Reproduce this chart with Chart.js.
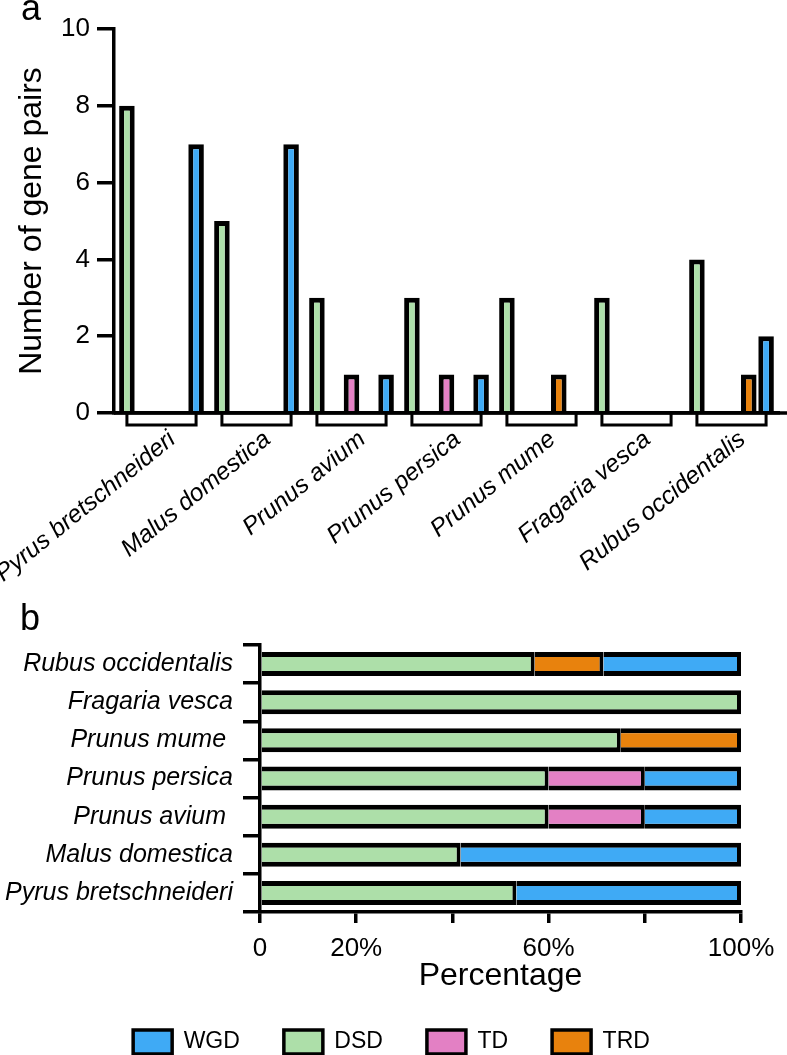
<!DOCTYPE html>
<html lang="en">
<head>
  <meta charset="UTF-8">
  <title>Gene pairs by duplication type</title>
  <script src="https://cdn.jsdelivr.net/npm/chart.js"></script>
  <style>
    body { margin: 0; background: #fff; }
    #wrap { position: relative; width: 787px; height: 1055px; overflow: hidden; }
    .box { position: absolute; left: 0; width: 787px; }
    #topBox { top: 0; height: 600px; }
    #botBox { top: 600px; height: 464px; }
    .tag { position: absolute; font: 36px/36px "Liberation Sans", Arial, sans-serif; color: #000; }
  </style>
</head>
<body>
<div id="wrap">
  <div class="box" id="topBox"><canvas id="countChart"></canvas></div>
  <div class="box" id="botBox"><canvas id="pctChart"></canvas></div>
  <div class="tag" style="left:21px; top:-10px;">a</div>
  <div class="tag" style="left:20px; top:600px;">b</div>
</div>

<script>
  // panel a: number of gene pairs per species
  const species = ['Pyrus bretschneideri', 'Malus domestica', 'Prunus avium', 'Prunus persica',
                   'Prunus mume', 'Fragaria vesca', 'Rubus occidentalis'];
  const dsdCount = [8, 5, 3, 3, 3, 3, 4];
  const tdCount  = [0, 0, 1, 1, 0, 0, 0];
  const trdCount = [0, 0, 0, 0, 1, 0, 1];
  const wgdCount = [7, 7, 1, 1, 0, 0, 2];

  // panel b: percentage per species (top row first)
  const speciesRows = ['Rubus occidentalis', 'Fragaria vesca', 'Prunus mume ', 'Prunus persica',
                       'Prunus avium ', 'Malus domestica', 'Pyrus bretschneideri'];
  const dsdPct = [57.1, 100, 75, 60, 60, 41.7, 53.3];
  const tdPct  = [0, 0, 0, 20, 20, 0, 0];
  const trdPct = [14.3, 0, 25, 0, 0, 0, 0];
  const wgdPct = [28.6, 0, 0, 20, 20, 58.3, 46.7];
  const pctTickLabels = ['0', '20%', '', '60%', '', '100%'];

  const legendOrder = ['WGD', 'DSD', 'TD', 'TRD'];
  const colors = { DSD: '#addfa9', TD: '#e380c4', TRD: '#e8820d', WGD: '#3faaf5' };

  Chart.defaults.font.family = '"Liberation Sans", Arial, sans-serif';
  Chart.defaults.color = '#000';

  // bracket under each group + axis line running to the edge
  const brackets = {
    id: 'brackets',
    afterDraw(chart) {
      const { ctx, chartArea, scales } = chart;
      const first = chart.getDatasetMeta(0).data;
      const last = chart.getDatasetMeta(4).data;
      const y0 = scales.y.getPixelForValue(0);
      ctx.save();
      ctx.strokeStyle = '#000';
      ctx.lineWidth = 3.5;
      ctx.beginPath();
      ctx.moveTo(chartArea.left, y0);
      ctx.lineTo(chart.width, y0);
      ctx.stroke();
      ctx.lineWidth = 3;
      first.forEach((bar, i) => {
        const x1 = bar.x, x2 = last[i].x;
        ctx.beginPath();
        ctx.moveTo(x1, y0);
        ctx.lineTo(x1, y0 + 12);
        ctx.lineTo(x2, y0 + 12);
        ctx.lineTo(x2, y0);
        ctx.stroke();
      });
      ctx.restore();
    }
  };

  // legend sits a little right of the plot centre in the original
  const legendShift = {
    id: 'legendShift',
    afterLayout(chart) {
      chart.legend.left += 21;
      chart.legend.right += 21;
    }
  };

  const barStyle = (c) => ({ backgroundColor: c, borderColor: '#000', borderWidth: 5 });

  new Chart(document.getElementById('countChart'), {
    type: 'bar',
    data: {
      labels: species,
      datasets: [
        { label: 'DSD', data: dsdCount, ...barStyle(colors.DSD) },
        { label: '', data: species.map(() => null) },   // empty column, keeps GraphPad spacing
        { label: 'TD', data: tdCount, ...barStyle(colors.TD) },
        { label: 'TRD', data: trdCount, ...barStyle(colors.TRD) },
        { label: 'WGD', data: wgdCount, ...barStyle(colors.WGD) }
      ]
    },
    options: {
      responsive: true,
      maintainAspectRatio: false,
      animation: false,
      layout: { padding: { top: 29, right: 8, left: 0, bottom: 0 } },
      datasets: { bar: { categoryPercentage: 0.91, barPercentage: 0.9 } },
      plugins: { legend: { display: false }, tooltip: { enabled: false } },
      scales: {
        x: {
          grid: { display: false, drawTicks: false },
          border: { display: true, color: '#000', width: 3.5 },
          ticks: {
            font: { size: 24.5, style: 'italic' },
            minRotation: 39, maxRotation: 39, autoSkip: false,
            padding: 12, labelOffset: 11
          },
          afterFit: s => { s.height = 187; s.paddingLeft = 0; s.paddingRight = 0; }
        },
        y: {
          min: 0, max: 10,
          ticks: { stepSize: 2, font: { size: 26 }, padding: 7 },
          grid: { drawOnChartArea: false, tickLength: 17, lineWidth: 3.5, color: '#000' },
          border: { color: '#000', width: 3.5 },
          title: { display: true, text: 'Number of gene pairs', font: { size: 32 }, padding: { top: 13, bottom: 0 } },
          afterFit: s => { s.width = 114; }
        }
      }
    },
    plugins: [brackets]
  });

  const segStyle = (c) => ({
    backgroundColor: c, borderColor: '#000',
    borderWidth: { top: 5, bottom: 5, left: 0, right: 4 }
  });

  new Chart(document.getElementById('pctChart'), {
    type: 'bar',
    data: {
      labels: speciesRows,
      datasets: [
        { label: 'DSD', data: dsdPct, ...segStyle(colors.DSD) },
        { label: 'TD', data: tdPct, ...segStyle(colors.TD) },
        { label: 'TRD', data: trdPct, ...segStyle(colors.TRD) },
        { label: 'WGD', data: wgdPct, ...segStyle(colors.WGD) }
      ]
    },
    options: {
      indexAxis: 'y',
      responsive: true,
      maintainAspectRatio: false,
      animation: false,
      layout: { padding: { top: 45, right: 46, left: 0, bottom: 0 } },
      datasets: { bar: { categoryPercentage: 1, barPercentage: 0.63 } },
      plugins: {
        tooltip: { enabled: false },
        legend: {
          position: 'bottom',
          labels: {
            boxWidth: 39, boxHeight: 24, padding: 44,
            font: { size: 23 },
            sort: (a, b) => legendOrder.indexOf(a.text) - legendOrder.indexOf(b.text)
          }
        }
      },
      scales: {
        x: {
          stacked: true, min: 0, max: 100,
          ticks: { stepSize: 20, font: { size: 26 }, padding: 10, callback: (v, i) => pctTickLabels[i] },
          grid: { drawOnChartArea: false, tickLength: 11, lineWidth: 3.5, color: '#000' },
          border: { color: '#000', width: 3.5 },
          title: { display: true, text: 'Percentage', font: { size: 32 }, padding: { top: 0, bottom: -9 } },
          afterFit: s => { s.height = 74; s.paddingLeft = 0; s.paddingRight = 0; }
        },
        y: {
          stacked: true,
          ticks: { font: { size: 25, style: 'italic' }, padding: 10 },
          grid: { drawOnChartArea: false, tickLength: 17, lineWidth: 3.5, color: '#000' },
          border: { color: '#000', width: 3.5 },
          afterFit: s => { s.width = 260; }
        }
      }
    },
    plugins: [legendShift]
  });
</script>
</body>
</html>
